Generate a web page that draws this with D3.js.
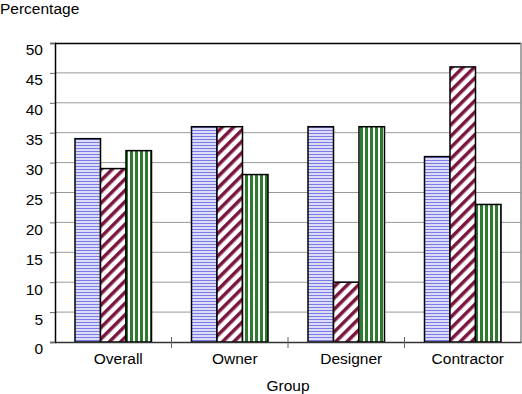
<!DOCTYPE html>
<html>
<head>
<meta charset="utf-8">
<script src="https://cdn.jsdelivr.net/npm/d3@7"></script>
<style>
  body { margin: 0; background: #fff; }
  text { font-family: "Liberation Sans", Arial, sans-serif; fill: #000; }
</style>
</head>
<body>
<svg id="chart" width="522" height="394"></svg>
<script>
// data
const groups = ["Overall", "Owner", "Designer", "Contractor"];
const seriesA = [34, 36, 36, 31];   // blue, horizontal lines
const seriesB = [29, 36, 10, 46];   // maroon, diagonal
const seriesC = [32, 28, 36, 23];   // green, vertical
const yTicks = [0, 5, 10, 15, 20, 25, 30, 35, 40, 45, 50];

const svg = d3.select("#chart");
const margin = { top: 43, right: 1, bottom: 52, left: 55 };
const width = +svg.attr("width"), height = +svg.attr("height");
const plotW = width - margin.left - margin.right;
const plotH = height - margin.top - margin.bottom;

const defs = svg.append("defs");

// horizontal lines on lavender
const pA = defs.append("pattern").attr("id", "patA")
  .attr("patternUnits", "userSpaceOnUse").attr("width", 4).attr("height", 3);
pA.append("rect").attr("width", 4).attr("height", 3).attr("fill", "#dcdcf8");
pA.append("rect").attr("y", 0).attr("width", 4).attr("height", 1).attr("fill", "#7c7ce6");

// diagonal maroon stripes
const pB = defs.append("pattern").attr("id", "patB")
  .attr("patternUnits", "userSpaceOnUse").attr("width", 8).attr("height", 8)
  .attr("patternTransform", "rotate(45)");
pB.append("rect").attr("width", 8).attr("height", 8).attr("fill", "#fff");
pB.append("rect").attr("width", 3.5).attr("height", 8).attr("fill", "#7a1640");

// vertical green stripes
const pC = defs.append("pattern").attr("id", "patC")
  .attr("patternUnits", "userSpaceOnUse").attr("width", 5).attr("height", 5);
pC.append("rect").attr("width", 5).attr("height", 5).attr("fill", "#fff");
pC.append("rect").attr("x", 0).attr("width", 3).attr("height", 5).attr("fill", "#2e7a2e");

const g = svg.append("g").attr("transform", `translate(${margin.left},${margin.top})`);

const x = d3.scaleBand().domain(groups).range([0, plotW]).paddingInner(0).paddingOuter(0);
const x1 = d3.scaleBand().domain(["A", "B", "C"]).range([20, x.bandwidth() - 20]);
const y = d3.scaleLinear().domain([0, 50]).range([plotH, 0]);

// gridlines
g.append("g").selectAll("line").data(yTicks.filter(d => d > 0 && d < 50)).join("line")
  .attr("x1", 0).attr("x2", plotW)
  .attr("y1", d => y(d)).attr("y2", d => y(d))
  .attr("stroke", "#9a9a9a").attr("stroke-width", 1);

// plot border: top black, right gray
g.append("line").attr("x1", 0).attr("x2", plotW).attr("y1", 0.5).attr("y2", 0.5)
  .attr("stroke", "#000").attr("stroke-width", 1.5);
g.append("line").attr("x1", plotW).attr("x2", plotW).attr("y1", 0).attr("y2", plotH)
  .attr("stroke", "#888").attr("stroke-width", 1.5);

const series = [
  { key: "A", values: seriesA, fill: "url(#patA)" },
  { key: "B", values: seriesB, fill: "url(#patB)" },
  { key: "C", values: seriesC, fill: "url(#patC)" }
];

series.forEach(s => {
  g.append("g").selectAll("rect").data(groups).join("rect")
    .attr("x", (d) => x(d) + x1(s.key))
    .attr("width", x1.bandwidth())
    .attr("y", (d, i) => y(s.values[i]))
    .attr("height", (d, i) => plotH - y(s.values[i]))
    .attr("fill", s.fill)
    .attr("stroke", "#000").attr("stroke-width", 1.5);
});

// y axis (labels sit a little below their gridline, as in the original)
const yAxis = g.append("g").call(d3.axisLeft(y).tickValues(yTicks).tickSize(5).tickPadding(7));
yAxis.select(".domain").attr("stroke", "#000").attr("stroke-width", 1.5);
yAxis.selectAll(".tick line").attr("stroke", "#666");
yAxis.selectAll("text").style("font-size", "15.5px").attr("fill", "#000").attr("y", 7);

// x axis
const xAxis = g.append("g").attr("transform", `translate(0,${plotH})`)
  .call(d3.axisBottom(x).tickSize(0).tickPadding(11));
xAxis.select(".domain").attr("stroke", "#333").attr("stroke-width", 1.5);
xAxis.selectAll("text").style("font-size", "15.5px").attr("fill", "#000").attr("x", 5);
// category separator ticks
g.append("g").selectAll("line").data(groups.slice(1)).join("line")
  .attr("x1", d => x(d)).attr("x2", d => x(d))
  .attr("y1", plotH - 5).attr("y2", plotH + 6)
  .attr("stroke", "#666").attr("stroke-width", 1);

svg.append("text").attr("x", 0).attr("y", 14).style("font-size", "15.5px").text("Percentage");
svg.append("text").attr("x", margin.left + plotW / 2 + 0).attr("y", 391)
  .attr("text-anchor", "middle").style("font-size", "15.5px").text("Group");
</script>
</body>
</html>
